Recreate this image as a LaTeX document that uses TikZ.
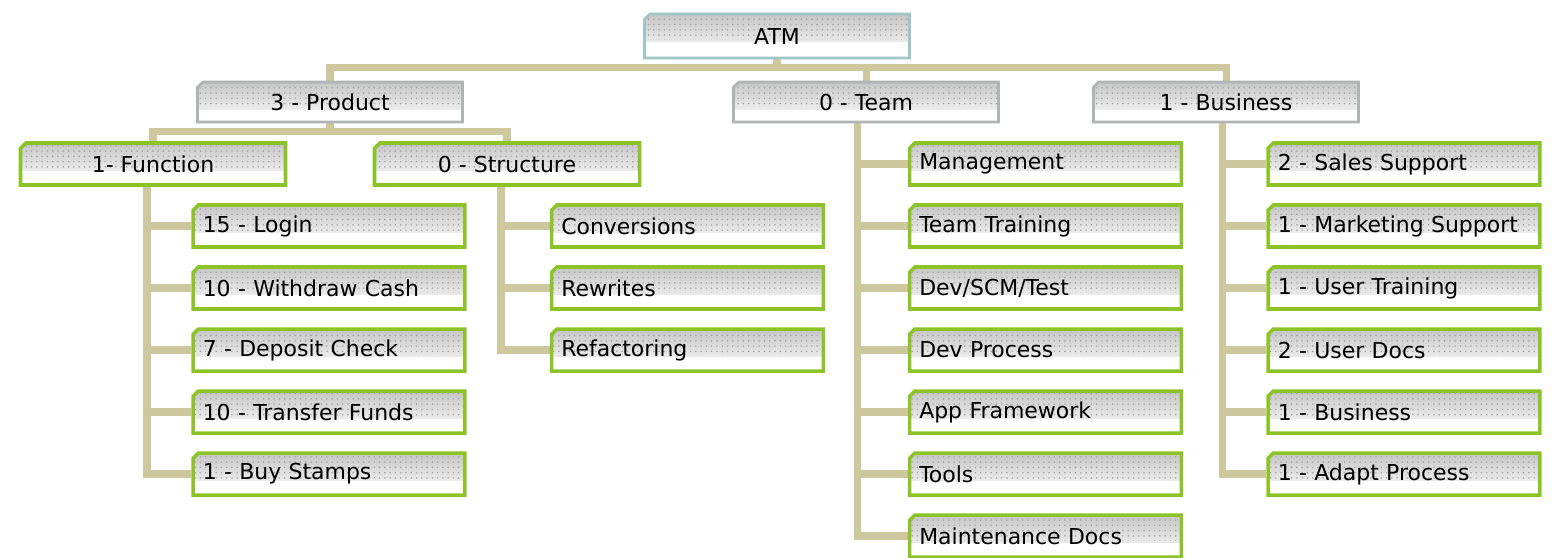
\documentclass[tikz,border=0pt]{standalone}
\usepackage{fontspec}
\setmainfont{DejaVu Sans}
\usetikzlibrary{shapes.misc,patterns,backgrounds}
\definecolor{linkfill}{RGB}{205,200,158}
\definecolor{leafgreen}{RGB}{140,196,40}
\definecolor{topblue}{RGB}{160,196,200}
\definecolor{midgray}{RGB}{176,180,180}
\begin{document}
\begin{tikzpicture}[node distance={12.4mm}, auto=center]
                \tikzstyle{box} = [chamfered rectangle, chamfered rectangle corners=north west, chamfered rectangle xsep=1.5pt, chamfered rectangle ysep=1.5pt, fill=white, minimum width=5.3cm, minimum height=0.84cm, font=\fontsize{12.5}{14}\selectfont, path picture={
                    \shade[top color=gray!45, bottom color=white] (path picture bounding box.north west) rectangle ([yshift=-0.55cm]path picture bounding box.north east);
                    \fill[pattern=dots, pattern color=gray!70] (path picture bounding box.north west) rectangle ([yshift=-0.5cm]path picture bounding box.north east);}]
                \tikzstyle{root} = [box, draw=topblue, line width=1.5pt, minimum height=0.88cm]
                \tikzstyle{main} = [box, draw=midgray, line width=1.5pt, minimum height=0.8cm]
                \tikzstyle{sub} = [box, draw=leafgreen, line width=2pt]
                \tikzstyle{leaf} = [box, draw=leafgreen, line width=2pt, text width=5.05cm, inner xsep=0.14cm, align=left]
                \tikzstyle{link} = [draw=linkfill, line width=4pt]

                \useasboundingbox (0,0) rectangle (31.36,-11.14);

                % Root and first level (gray border)
                \node[root] (atm) at (15.54,-0.72) {ATM};
                \node[main] (prod) [below of=atm, xshift=-8.94cm, yshift=-0.08cm] {3 - Product};
                \node[main] (team) [below of=atm, xshift=1.78cm, yshift=-0.08cm] {0 - Team};
                \node[main] (bus) [below of=atm, xshift=8.98cm, yshift=-0.08cm] {1 - Business};

                % Second level under product (green border)
                \node[sub] (func) [below of=prod, xshift=-3.54cm] {1- Function};
                \node[sub] (struct) [below of=prod, xshift=3.54cm] {0 - Structure};

                % Function leaves
                \node[leaf] (f1) [below of=func, xshift=3.52cm] {15 - Login};
                \node[leaf] (f2) [below of=f1] {10 - Withdraw Cash};
                \node[leaf] (f3) [below of=f2] {7 - Deposit Check};
                \node[leaf] (f4) [below of=f3] {10 - Transfer Funds};
                \node[leaf] (f5) [below of=f4] {1 - Buy Stamps};

                % Structure leaves
                \node[leaf] (s1) [below of=struct, xshift=3.61cm] {Conversions};
                \node[leaf] (s2) [below of=s1] {Rewrites};
                \node[leaf] (s3) [below of=s2] {Refactoring};

                % Team leaves
                \node[leaf] (t1) [below of=team, xshift=3.59cm] {Management};
                \node[leaf] (t2) [below of=t1] {Team Training};
                \node[leaf] (t3) [below of=t2] {Dev/SCM/Test};
                \node[leaf] (t4) [below of=t3] {Dev Process};
                \node[leaf] (t5) [below of=t4] {App Framework};
                \node[leaf] (t6) [below of=t5] {Tools};
                \node[leaf] (t7) [below of=t6] {Maintenance Docs};

                % Business leaves
                \node[leaf] (b1) [below of=bus, xshift=3.56cm] {2 - Sales Support};
                \node[leaf] (b2) [below of=b1] {1 - Marketing Support};
                \node[leaf] (b3) [below of=b2] {1 - User Training};
                \node[leaf] (b4) [below of=b3] {2 - User Docs};
                \node[leaf] (b5) [below of=b4] {1 - Business};
                \node[leaf] (b6) [below of=b5] {1 - Adapt Process};

                \begin{pgfonlayer}{background}
                \draw[link] (atm.south) -- ++(0,-0.16) -| (prod.north);
                \draw[link] (atm.south) -- ++(0,-0.16) -| (team.north);
                \draw[link] (atm.south) -- ++(0,-0.16) -| (bus.north);
                \draw[link] (prod.south) -- ++(0,-0.16) -| (func.north);
                \draw[link] (prod.south) -- ++(0,-0.16) -| (struct.north);
                \draw[link] ([xshift=-0.12cm]func.south) |- (f1.west);
                \draw[link] ([xshift=-0.12cm]func.south) |- (f2.west);
                \draw[link] ([xshift=-0.12cm]func.south) |- (f3.west);
                \draw[link] ([xshift=-0.12cm]func.south) |- (f4.west);
                \draw[link] ([xshift=-0.12cm]func.south) |- (f5.west);
                \draw[link] ([xshift=-0.12cm]struct.south) |- (s1.west);
                \draw[link] ([xshift=-0.12cm]struct.south) |- (s2.west);
                \draw[link] ([xshift=-0.12cm]struct.south) |- (s3.west);
                \draw[link] ([xshift=-0.18cm]team.south) |- (t1.west);
                \draw[link] ([xshift=-0.18cm]team.south) |- (t2.west);
                \draw[link] ([xshift=-0.18cm]team.south) |- (t3.west);
                \draw[link] ([xshift=-0.18cm]team.south) |- (t4.west);
                \draw[link] ([xshift=-0.18cm]team.south) |- (t5.west);
                \draw[link] ([xshift=-0.18cm]team.south) |- (t6.west);
                \draw[link] ([xshift=-0.18cm]team.south) |- (t7.west);
                \draw[link] ([xshift=-0.08cm]bus.south) |- (b1.west);
                \draw[link] ([xshift=-0.08cm]bus.south) |- (b2.west);
                \draw[link] ([xshift=-0.08cm]bus.south) |- (b3.west);
                \draw[link] ([xshift=-0.08cm]bus.south) |- (b4.west);
                \draw[link] ([xshift=-0.08cm]bus.south) |- (b5.west);
                \draw[link] ([xshift=-0.08cm]bus.south) |- (b6.west);
                \end{pgfonlayer}
            \end{tikzpicture}
\end{document}
